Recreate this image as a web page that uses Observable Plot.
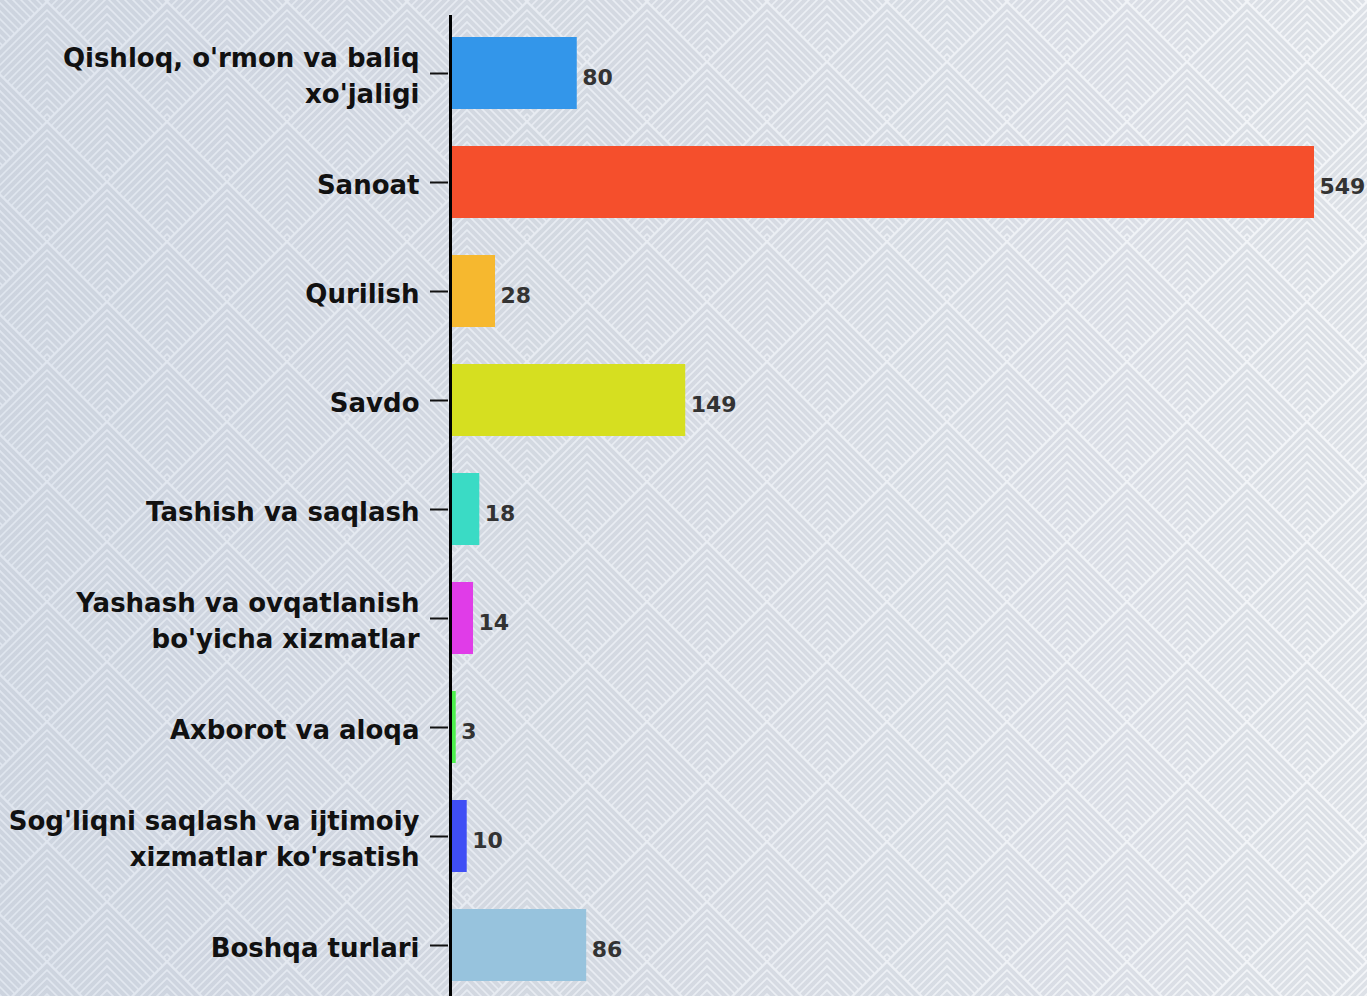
<!DOCTYPE html>
<html>
<head>
<meta charset="utf-8">
<script src="https://cdn.jsdelivr.net/npm/d3@7"></script>
<script src="https://cdn.jsdelivr.net/npm/@observablehq/plot@0.6"></script>
<style>
  html, body { margin: 0; padding: 0; }
  body {
    width: 1367px; height: 996px; overflow: hidden;
    background-color: #e6eaf0;
  }
  #chart svg { display: block; background: transparent; }
</style>
</head>
<body>
<div id="chart"></div>
<script>
const categories = [
  "Qishloq, o'rmon va baliq\nxo'jaligi",
  "Sanoat",
  "Qurilish",
  "Savdo",
  "Tashish va saqlash",
  "Yashash va ovqatlanish\nbo'yicha xizmatlar",
  "Axborot va aloqa",
  "Sog'liqni saqlash va ijtimoiy\nxizmatlar ko'rsatish",
  "Boshqa turlari"
];
const values = [80, 549, 28, 149, 18, 14, 3, 10, 86];
const colors = ["#3396ea", "#f54f2c", "#f6b82f", "#d6df20", "#3adbc5", "#e03ce8", "#4cf04c", "#3f4ef5", "#97c3dd"];

// decorative background: nested chevron tiles over a soft gradient
(function () {
  let paths = "";
  const centers = [[60, 60], [0, 0], [120, 0], [0, 120], [120, 120]];
  for (const [cx, cy] of centers) {
    for (let d = 6; d <= 118; d += 8) {
      const ax = cx, ay = cy - 60 + d;
      const lx = cx + (d - 120) / 2, ly = cy - 60 + (d + 120) / 2;
      const rx = cx - (d - 120) / 2;
      paths += `M${lx},${ly}L${ax},${ay}L${rx},${ly}`;
    }
  }
  const svg = `<svg xmlns='http://www.w3.org/2000/svg' width='120' height='120'><path d='${paths}' fill='none' stroke='rgb(120,132,150)' stroke-opacity='0.19' stroke-width='4'/></svg>`;
  document.body.style.backgroundImage =
    `url("data:image/svg+xml,${encodeURIComponent(svg)}"), linear-gradient(90deg, #e0e6ef 0%, #e8ecf2 40%, #f4f6f9 100%)`;
  document.body.style.backgroundPosition = "-13px 0, 0 0";
})();

const data = categories.map((c, i) => ({category: c, value: values[i], color: colors[i]}));

const chart = Plot.plot({
  width: 1367,
  height: 996,
  marginLeft: 451,
  marginRight: 53,
  marginTop: 15,
  marginBottom: -7,
  style: {background: "transparent", fontFamily: "'DejaVu Sans', sans-serif"},
  x: {domain: [0, 549], axis: null},
  y: {domain: categories, paddingInner: 0.3425, paddingOuter: 0.1644},
  marks: [
    Plot.barX(data, {y: "category", x: "value", fill: "color"}),
    Plot.axisY({
      tickSize: 18,
      tickPadding: 11,
      fontSize: 26,
      fontWeight: "bold",
      fill: "#111",
      stroke: "#111",
      strokeWidth: 2,
      lineHeight: 1.38,
      label: null,
      dx: -3
    }),
    Plot.ruleX([0], {stroke: "#000", strokeWidth: 3, dx: -1}),
    Plot.text(data, {
      y: "category", x: "value", text: d => String(d.value),
      textAnchor: "start", dx: 5, dy: 4,
      fontSize: 22, fontWeight: "bold", fill: "#333"
    })
  ]
});
document.getElementById("chart").appendChild(chart);
</script>
</body>
</html>
